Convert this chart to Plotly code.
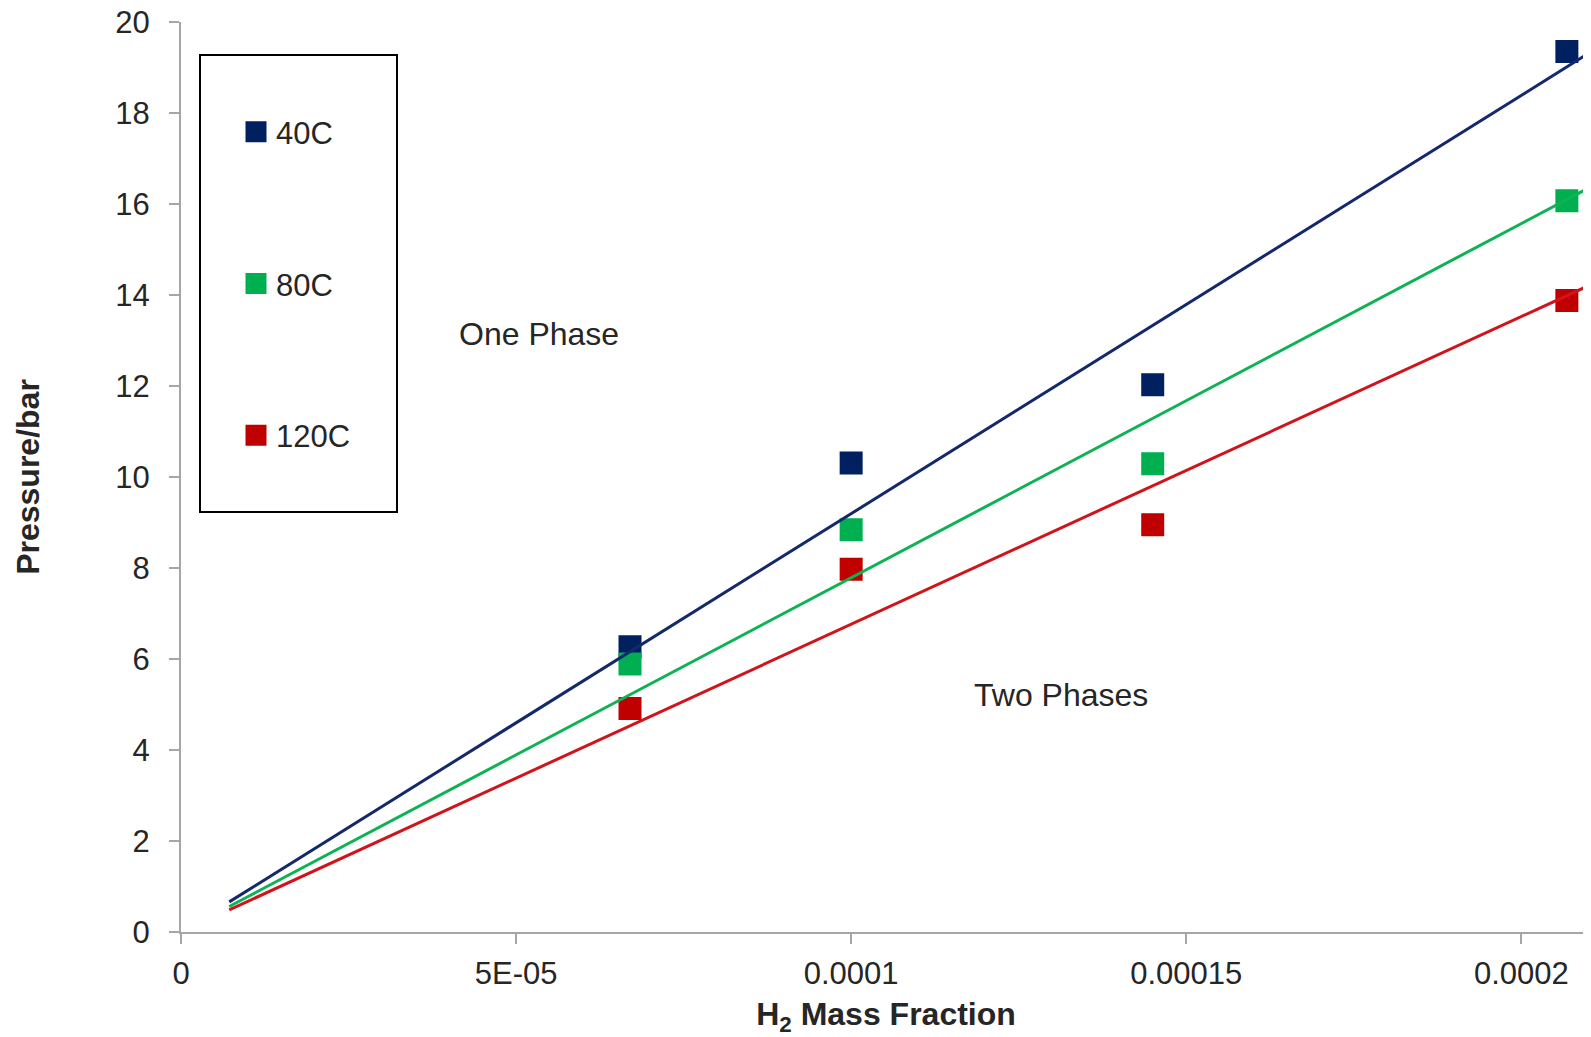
import plotly.graph_objects as go
import numpy as np

series_names = ["40C", "80C", "120C"]
h2_fraction = [6.7e-5, 1.0e-4, 1.45e-4, 2.068e-4]
p_40c = [6.27, 10.31, 12.03, 19.35]
p_80c = [5.89, 8.84, 10.29, 16.07]
p_120c = [4.91, 7.97, 8.95, 13.88]
trend_x = [7.2e-6, 2.104e-4]
x_tick_vals = [0, 5e-5, 1e-4, 1.5e-4, 2e-4]
x_tick_text = ["0", "5E-05", "0.0001", "0.00015", "0.0002"]
y_tick_vals = list(range(0, 21, 2))

marker_colors = ["#002060", "#00B050", "#C00000"]
line_colors = ["#14296B", "#0DB352", "#D0141C"]
series_vals = [p_40c, p_80c, p_120c]

FONT = "Liberation Sans, Arial, sans-serif"
TXT = "#262626"
fig = go.Figure()

for name, vals, col in zip(series_names, series_vals, marker_colors):
    fig.add_trace(go.Scatter(
        x=h2_fraction, y=vals, mode="markers", name=name,
        legendgroup=name,
        marker=dict(symbol="square", size=18, color=col, line=dict(width=5, color=col)),
    ))

xa = np.array(h2_fraction)
for name, vals, col in zip(series_names, series_vals, line_colors):
    ya = np.array(vals)
    k = float((xa * ya).sum() / (xa * xa).sum())  # trendline through origin
    tx = np.array(trend_x)
    fig.add_trace(go.Scatter(
        x=tx, y=k * tx, mode="lines", showlegend=False,
        line=dict(color=col, width=3), hoverinfo="skip",
    ))

# page body has an 8px margin: figure sits at (8, 8) in the window
OFF = 8
W, H = 1591 - OFF, 1037 - OFF
ml, mr, mt, mb = 181 - OFF, 0, 22 - OFF, 105
pw, ph = W - ml - mr, H - mt - mb

def px_to_paper_x(px):  # px in window coordinates
    return (px - OFF - ml) / pw

def px_to_paper_y(py):
    return (H - mb - (py - OFF)) / ph

fig.add_shape(type="rect", xref="paper", yref="paper",
              x0=px_to_paper_x(200), x1=px_to_paper_x(397),
              y0=px_to_paper_y(512), y1=px_to_paper_y(55),
              line=dict(color="#000000", width=2), fillcolor="rgba(0,0,0,0)")

fig.add_annotation(text="One Phase", x=px_to_paper_x(539), y=px_to_paper_y(334),
                   xref="paper", yref="paper", showarrow=False,
                   xanchor="center", yanchor="middle",
                   font=dict(family=FONT, size=32, color=TXT))
fig.add_annotation(text="Two Phases", x=px_to_paper_x(1061), y=px_to_paper_y(695),
                   xref="paper", yref="paper", showarrow=False,
                   xanchor="center", yanchor="middle",
                   font=dict(family=FONT, size=32, color=TXT))

fig.update_layout(
    width=W, height=H,
    margin=dict(l=ml, r=mr, t=mt, b=mb, pad=0, autoexpand=False),
    paper_bgcolor="white", plot_bgcolor="white",
    font=dict(family=FONT, size=31, color=TXT),
    showlegend=True,
    legend=dict(
        x=px_to_paper_x(236), y=px_to_paper_y(105), xanchor="left", yanchor="top",
        xref="paper", yref="paper",
        traceorder="grouped", tracegroupgap=108.5,
        font=dict(family=FONT, size=31, color=TXT),
        bgcolor="rgba(0,0,0,0)", borderwidth=0,
    ),
    xaxis=dict(
        range=[0, 2.104e-4], tickvals=x_tick_vals, ticktext=x_tick_text,
        automargin=False, ticklabeloverflow="allow",
        showgrid=False, zeroline=False, showline=True, linecolor="#A6A6A6", linewidth=2,
        ticks="outside", ticklen=10, tickwidth=2, tickcolor="#A6A6A6",
        tickfont=dict(family=FONT, size=31, color=TXT), ticklabelstandoff=3,
        title=dict(text="<b>H<sub>2</sub> Mass Fraction</b>", standoff=30,
                   font=dict(family=FONT, size=32, color=TXT)),
    ),
    yaxis=dict(
        range=[0, 20], tickvals=y_tick_vals,
        automargin=False, ticklabeloverflow="allow",
        showgrid=False, zeroline=False, showline=True, linecolor="#A6A6A6", linewidth=2,
        ticks="outside", ticklen=10, tickwidth=2, tickcolor="#A6A6A6",
        tickfont=dict(family=FONT, size=31, color=TXT), ticklabelstandoff=13,
        title=dict(text="<b>Pressure/bar</b>", standoff=66,
                   font=dict(family=FONT, size=32, color=TXT)),
    ),
)

fig.write_html("out.html")
